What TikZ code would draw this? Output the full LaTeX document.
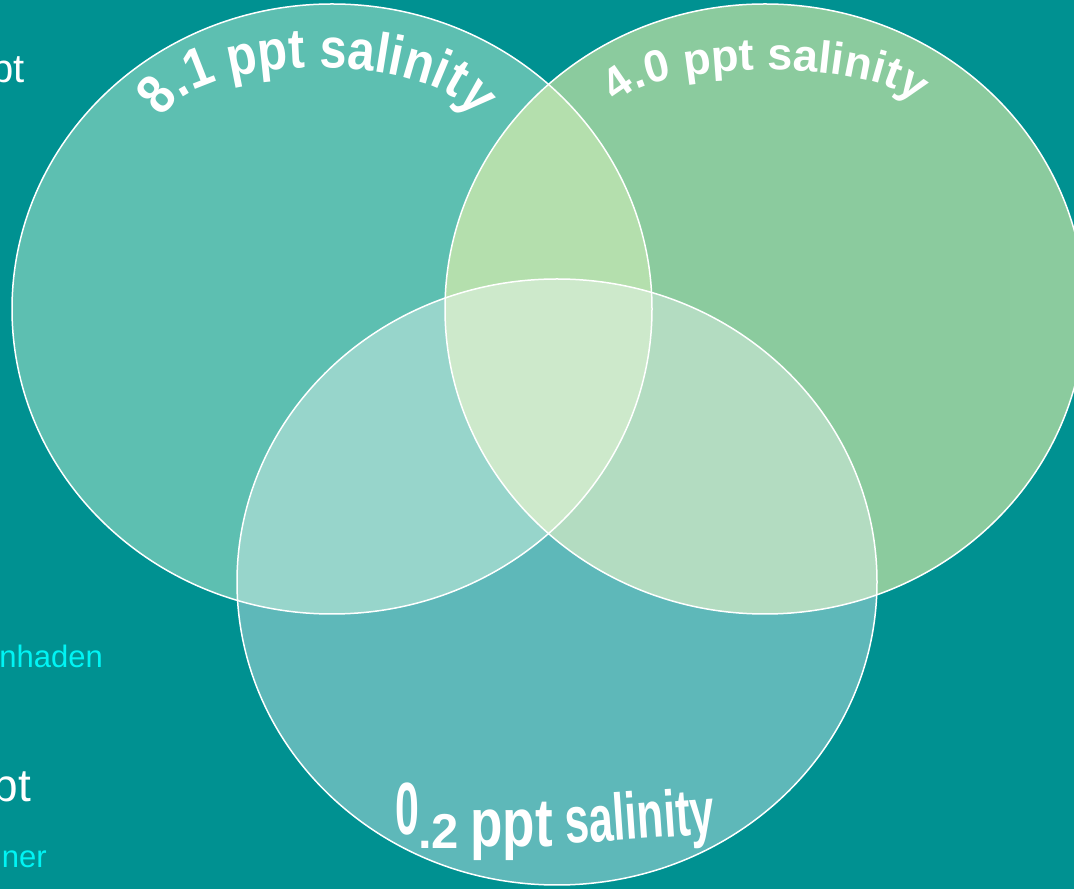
\documentclass[tikz,border=0pt]{standalone}
\usepackage{fontspec}
\setmainfont{Liberation Sans}
\newfontfamily\boldsans{Liberation Sans Bold}
\newfontfamily\arcsans{Liberation Sans Bold}[FakeStretch=0.87]
\usetikzlibrary{decorations.text}
\definecolor{bg}{HTML}{009191}
\definecolor{colA}{HTML}{5DBFB1}
\definecolor{colB}{HTML}{8BCB9E}
\definecolor{colC}{HTML}{5EB8B9}
\definecolor{colAB}{HTML}{B4DFAD}
\definecolor{colAC}{HTML}{97D5CB}
\definecolor{colBC}{HTML}{B3DCC1}
\definecolor{colABC}{HTML}{CDE9CB}
\definecolor{sidecyan}{HTML}{00F4F4}
\tikzset{
  rim/.style={draw=white, line width=1.5pt},
  sidetext/.style={inner sep=0pt, text=white, font=\fontsize{#1}{#1}\selectfont},
  sidecyantext/.style={inner sep=0pt, text=sidecyan, font=\fontsize{#1}{#1}\selectfont},
  bottomword/.style={inner sep=0pt, text=white},
  arctext/.style={decorate, decoration={text along path, text align=center, text color=white, text={#1}}}
}
\begin{document}
\begin{tikzpicture}[x=1pt,y=1pt]
\clip (0,0) rectangle (1074,889);
\fill[bg] (0,0) rectangle (1074,889);
\def\ellA{(332,580) ellipse [x radius=320, y radius=305]}
\def\ellB{(765,580) ellipse [x radius=320, y radius=305]}
\def\ellC{(557,307) ellipse [x radius=320, y radius=303]}
\fill[colA] \ellA;
\fill[colB] \ellB;
\fill[colC] \ellC;
\begin{scope}
  \clip \ellA;
  \fill[colAB] \ellB;
  \fill[colAC] \ellC;
\end{scope}
\begin{scope}
  \clip \ellB;
  \fill[colBC] \ellC;
\end{scope}
\begin{scope}
  \clip \ellA;
  \clip \ellB;
  \fill[colABC] \ellC;
\end{scope}
\draw[rim] \ellA;
\draw[rim] \ellB;
\draw[rim] \ellC;

% curved labels
\path[arctext={|\arcsans\fontsize{56}{60}\selectfont|8.1 ppt salinity}]
  (163,764) arc[start angle=180, end angle=0, x radius=155, y radius=57];
\path[arctext={|\boldsans\fontsize{45}{50}\selectfont|4.0 ppt salinity}]
  (616,779) arc[start angle=180, end angle=0, x radius=150, y radius=40];

% bottom label
\node[bottomword, anchor=base west] (zero) at (395,54)
  {\scalebox{0.58}[1]{\boldsans\fontsize{74}{74}\selectfont 0}};
\node[bottomword, anchor=base west] (ptwo) at (418,40)
  {\boldsans\fontsize{49}{49}\selectfont .2};
\node[bottomword, anchor=base west] (ppt) at (470,42)
  {\scalebox{0.78}[1]{\boldsans\fontsize{68}{68}\selectfont ppt}};
\node[bottomword, anchor=base west, rotate=4] (sal) at (566,45)
  {\scalebox{0.66}[1]{\boldsans\fontsize{66}{66}\selectfont salinity}};

% partial texts at the left edge
\node[sidetext=40, anchor=base east] (pttop) at (25,806) {pt};
\node[sidecyantext=31, anchor=base east] (nhaden) at (103,221) {nhaden};
\node[sidetext=46, anchor=base east] (ptbot) at (31,87) {pt};
\node[sidecyantext=31, anchor=base east] (ner) at (47,21) {ner};
\end{tikzpicture}
\end{document}
